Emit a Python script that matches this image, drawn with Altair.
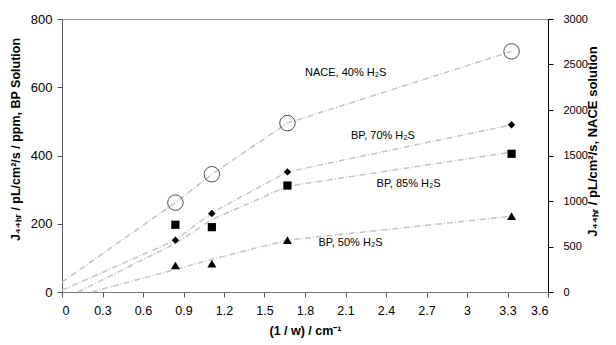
import altair as alt
import pandas as pd

# ---- data ----
x_pts = [0.84, 1.11, 1.67, 3.33]
bp70 = [152, 230, 352, 490]
bp85 = [197, 190, 312, 405]
bp50 = [78, 83, 152, 222]
nace40 = [982, 1294, 1856, 2644]  # right axis units

# fitted guide lines (grey, dashed)
fit70_x = [0.0, 0.84, 1.11, 1.67, 3.33]
fit70_y = [5, 152, 232, 352, 490]
fit85_x = [0.12, 0.84, 1.11, 1.67, 3.33]
fit85_y = [0, 142, 212, 310, 410]
fit50_x = [0.22, 0.84, 1.11, 1.67, 3.33]
fit50_y = [0, 66, 96, 152, 222]
fitN_x = [0.0, 0.84, 1.11, 1.67, 3.33]
fitN_y = [109, 982, 1294, 1856, 2644]

labels = ["NACE, 40% H₂S", "BP, 70% H₂S", "BP, 85% H₂S", "BP, 50% H₂S"]
label_x = [1.80, 2.14, 2.33, 1.90]
label_y = [642, 457, 316, 144]

series_names = ["BP, 70% H₂S", "BP, 85% H₂S", "BP, 50% H₂S"]

pts = pd.DataFrame(
    [(s, x, y) for s, ys in zip(series_names, [bp70, bp85, bp50]) for x, y in zip(x_pts, ys)],
    columns=["series", "x", "y"],
)
fits = pd.DataFrame(
    [(s, i, x, y) for s, xs, ys in zip(series_names, [fit70_x, fit85_x, fit50_x], [fit70_y, fit85_y, fit50_y])
     for i, (x, y) in enumerate(zip(xs, ys))],
    columns=["series", "order", "x", "y"],
)
nace_pts = pd.DataFrame({"x": x_pts, "y": nace40})
nace_fit = pd.DataFrame({"x": fitN_x, "y": fitN_y, "order": list(range(len(fitN_x)))})
lab = pd.DataFrame({"label": labels, "x": label_x, "y": label_y})

FONT = "Liberation Sans"
x_ticks = [0, 0.3, 0.6, 0.9, 1.2, 1.5, 1.8, 2.1, 2.4, 2.7, 3.0, 3.3, 3.6]

xenc = alt.X("x:Q", scale=alt.Scale(domain=[0, 3.6], nice=False),
             axis=alt.Axis(values=x_ticks, format=".1~f", title="(1 / w) / cm⁻¹",
                           grid=False, domainColor="#777", tickColor="#555",
                           labelFontSize=12.5, titleFontSize=12.5, titleFontWeight="bold",
                           labelFont=FONT, titleFont=FONT, labelColor="black", titleColor="black",
                           labelPadding=7, titlePadding=8))

yleft = alt.Y("y:Q", scale=alt.Scale(domain=[0, 800], nice=False),
              axis=alt.Axis(values=[0, 200, 400, 600, 800], title="J₄₄ₕᵣ / pL/cm²/s / ppm,  BP Solution",
                            grid=False, domainColor="#555", tickColor="#555",
                            labelFontSize=13, titleFontSize=12.5, titleFontWeight="bold",
                            labelFont=FONT, titleFont=FONT, labelColor="black", titleColor="black",
                            labelPadding=5, titlePadding=8, titleY=120))

yright = alt.Y("y:Q", scale=alt.Scale(domain=[0, 3000], nice=False),
               axis=alt.Axis(orient="right", values=[0, 500, 1000, 1500, 2000, 2500, 3000], format="d",
                             title="J₄₄ₕᵣ / pL/cm²/s, NACE solution", titleAngle=270,
                             grid=False, domainColor="black", tickColor="black",
                             labelFontSize=11, titleFontSize=13, titleFontWeight="bold",
                             labelFont=FONT, titleFont=FONT, labelColor="black", titleColor="black",
                             labelPadding=10, titlePadding=12, titleY=122))

dash = [6, 2, 1, 2]
line_color = "#c4c4c4"

bp_lines = alt.Chart(fits).mark_line(color=line_color, strokeWidth=1.5, strokeDash=dash).encode(
    x=xenc, y=yleft, detail="series:N", order="order:Q")

bp_points = alt.Chart(pts).mark_point(filled=True, color="black", opacity=1).encode(
    x="x:Q", y="y:Q",
    shape=alt.Shape("series:N", scale=alt.Scale(domain=series_names,
                                                range=["diamond", "square", "triangle-up"]), legend=None),
    size=alt.Size("series:N", scale=alt.Scale(domain=series_names, range=[55, 80, 70]), legend=None),
)

texts = alt.Chart(lab).mark_text(font=FONT, fontSize=11, color="black", align="left").encode(
    x="x:Q", y="y:Q", text="label:N")

left_layer = alt.layer(bp_lines, bp_points, texts)

nace_line = alt.Chart(nace_fit).mark_line(color=line_color, strokeWidth=1.5, strokeDash=dash).encode(
    x="x:Q", y=yright, order="order:Q")
nace_circ = alt.Chart(nace_pts).mark_point(shape="circle", filled=False, color="black",
                                             size=240, strokeWidth=1).encode(x="x:Q", y="y:Q")
right_layer = alt.layer(nace_line, nace_circ)

chart = alt.layer(left_layer, right_layer).resolve_scale(y="independent").properties(
    width=486, height=273, background="white",
    padding={"left": 1, "top": 5, "right": 0, "bottom": 5},
).configure_view(stroke="#999", strokeWidth=1)

chart.save("out.html", embed_options={"renderer": "svg", "actions": False})
